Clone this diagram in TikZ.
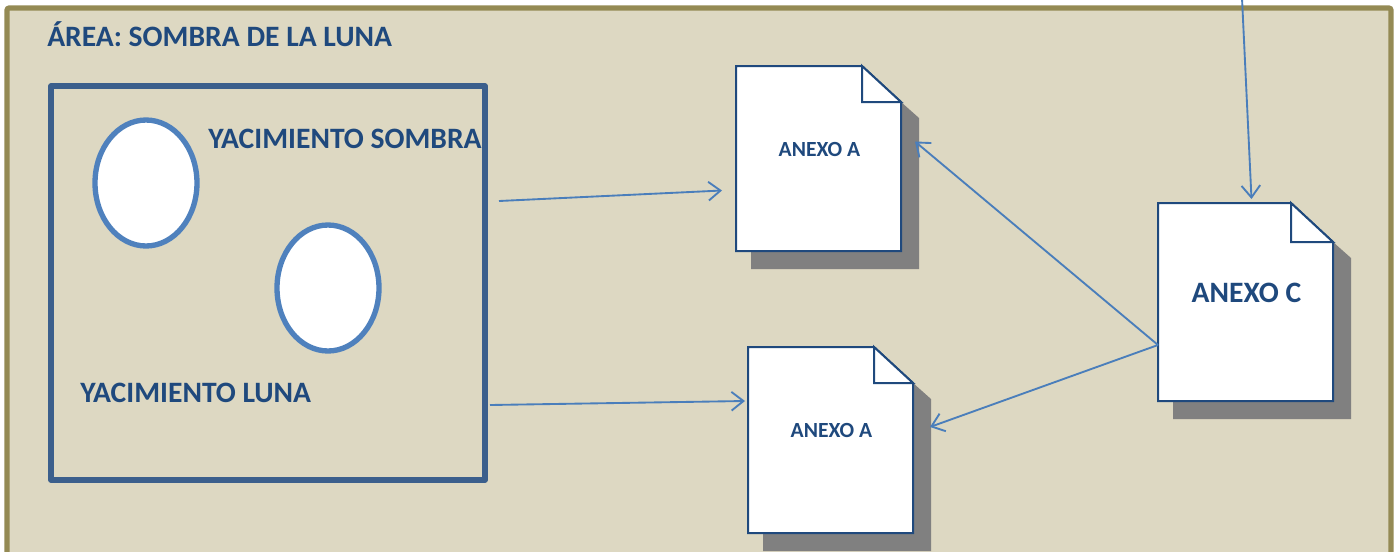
\documentclass[tikz,border=0pt]{standalone}
\usepackage{fontspec}
\setmainfont{Carlito}
\usetikzlibrary{shapes.geometric,arrows.meta,calc}
\definecolor{sandfill}{HTML}{DDD8C2}
\definecolor{oliveline}{HTML}{948A54}
\definecolor{boxline}{HTML}{3B5F8C}
\definecolor{ovalline}{HTML}{4F81BD}
\definecolor{arrowline}{HTML}{4A7EBB}
\definecolor{inkblue}{HTML}{1F497D}
\definecolor{shadowgray}{HTML}{808080}

% page with folded corner and its shadow, #1 = node name, #2 = fold size x, #3 = fold size y
\newcommand{\docpage}[3]{
  \fill [shadowgray] ([shift={(15,0)}]#1.south west) -- ([shift={(15,18)}]#1.south west)
    -- ([shift={(18,18)}]#1.south east) -- ([shift={(18,#3+16)}]#1.north east)
    -- ([shift={(0,#3)}]#1.north east) -- cycle;
  \draw [docline, fill=white] (#1.north west) -- ([shift={(-#2,0)}]#1.north east)
    -- ([shift={(0,#3)}]#1.north east) -- (#1.south east) -- (#1.south west) -- cycle;
  \draw [docline, fill=white] ([shift={(-#2,0)}]#1.north east) -- ([shift={(-#2,#3)}]#1.north east)
    -- ([shift={(0,#3)}]#1.north east) -- cycle;
}

\begin{document}
\begin{tikzpicture}
  [x=0.75pt, y=-0.75pt,
  areaframe/.style={rectangle, draw=oliveline, fill=sandfill, line width=3.8pt, rounded corners=1.5pt,
    minimum width=1384*0.75pt, minimum height=700*0.75pt, inner sep=0pt},
  fieldbox/.style={rectangle, draw=boxline, line width=4pt, line join=round,
    minimum width=434*0.75pt, minimum height=394*0.75pt, inner sep=0pt, outer sep=0pt},
  oval/.style={ellipse, draw=ovalline, fill=white, line width=4pt,
    minimum width=102*0.75pt, minimum height=126*0.75pt, inner sep=0pt},
  docbase/.style={rectangle, inner sep=0pt, outer sep=0pt},
  docline/.style={draw=inkblue, line width=1.5pt, line join=miter},
  biglabel/.style={font=\bfseries\fontsize{22.2}{26}\selectfont, text=inkblue, inner sep=0pt},
  smalllabel/.style={font=\bfseries\fontsize{16.2}{19}\selectfont, text=inkblue, inner sep=0pt},
  link/.style={draw=arrowline, line width=1.4pt, -{Straight Barb[length=9pt,width=14pt,line width=1.4pt]}}]

  \clip (0,0) rectangle (1400,551);
  \node [areaframe] (area) at (699,358) {};
  \node [biglabel, anchor=west] (areaTitle) at (47,34) {ÁREA: SOMBRA DE LA LUNA};

  \node [fieldbox] (field) at (268,283) {};
  \node [oval] (ovalSombra) at (146,183) {};
  \node [oval] (ovalLuna) at (328,288) {};
  \node [biglabel, anchor=west] (labelSombra) at (208,139) {YACIMIENTO SOMBRA};
  \node [biglabel, anchor=west] (labelLuna) at (80,393) {YACIMIENTO LUNA};

  % documents
  \node [docbase, minimum width=165*0.75pt, minimum height=185*0.75pt] (docTop) at (818.5,158.5) {};
  \docpage{docTop}{39}{36}
  \node [smalllabel] (docTopText) at (819.5,149) {ANEXO A};

  \node [docbase, minimum width=165*0.75pt, minimum height=186*0.75pt] (docBottom) at (830.5,440) {};
  \docpage{docBottom}{39}{36}
  \node [smalllabel] (docBottomText) at (831.5,430) {ANEXO A};

  \node [docbase, minimum width=175*0.75pt, minimum height=198*0.75pt] (docRight) at (1245.5,302) {};
  \docpage{docRight}{42}{39}
  \node [biglabel] (docRightText) at (1246.5,293) {ANEXO C};

  % connectors
  \coordinate (topEntry) at (1242,-2);
  \path [link] ([shift={(14,-82)}]field.east) -- ([shift={(-14,32)}]docTop.west);
  \path [link] ([shift={(5,122)}]field.east) -- ([shift={(-3,-39)}]docBottom.west);
  \path [link] ([shift={(0,43)}]docRight.west) -- ([shift={(14,-17)}]docTop.east);
  \path [link] ([shift={(0,43)}]docRight.west) -- ([shift={(17,-13)}]docBottom.east);
  \path [link] (topEntry) -- ([shift={(6,-4)}]docRight.north);
\end{tikzpicture}
\end{document}
